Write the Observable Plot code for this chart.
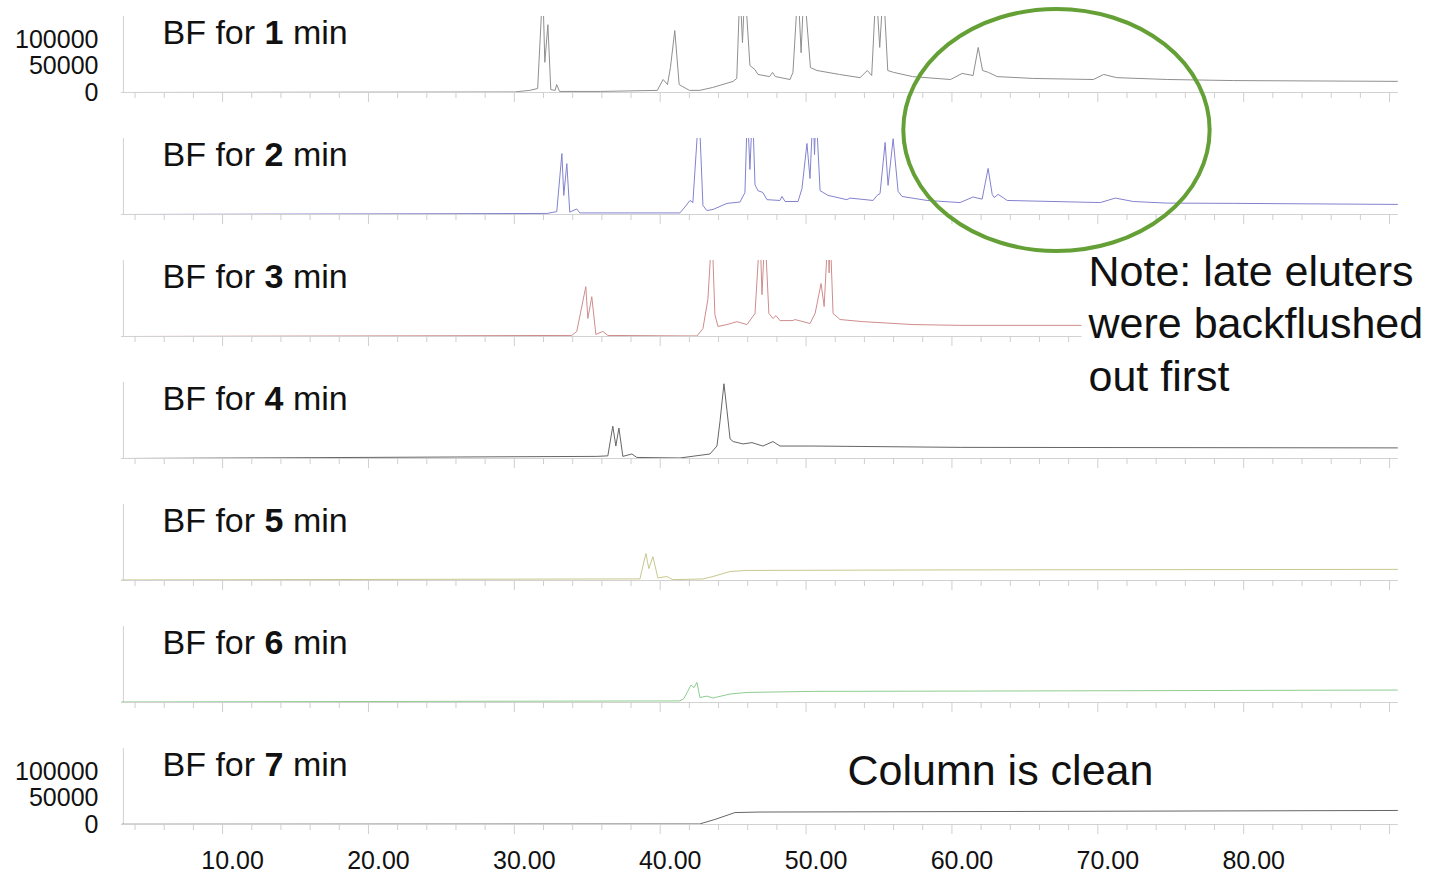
<!DOCTYPE html>
<html><head><meta charset="utf-8">
<script src="https://cdn.jsdelivr.net/npm/d3@7"></script>
<script src="https://cdn.jsdelivr.net/npm/@observablehq/plot@0.6"></script>
<style>
body{margin:0;background:#fff;}
#chart{position:relative;width:1429px;height:873px;}
</style></head><body><div id="chart"></div>
<script>
// ---- data (retention time in min, abundance in counts) ----
const panels = [1, 2, 3, 4, 5, 6, 7];
const panelColors = ["#8f8f8f", "#8282cf", "#cf8c8c", "#666666", "#c8c88e", "#8fcd8f", "#666666"];

const bf1 = [[3.1,0],[30.0,1000],[31.05,4000],[31.6,7500],[31.95,200000],[32.09,57000],[32.3,128000],[32.5,5500],[32.8,4000],[32.9,15000],[33.1,2000],[35.9,2000],[39.8,4000],[40.2,24500],[40.5,15000],[40.7,47000],[41.0,117000],[41.3,15000],[41.55,11000],[42.0,4000],[42.7,4000],[43.6,9500],[45.0,21000],[45.25,26500],[45.47,200000],[45.64,94000],[45.81,200000],[46.15,51000],[46.5,43000],[46.7,34000],[47.5,30000],[47.7,38000],[47.9,30000],[48.9,24500],[49.1,38000],[49.45,200000],[49.66,75000],[49.86,200000],[50.3,47000],[50.75,41500],[52.3,34000],[53.7,28000],[54.2,41500],[54.5,32000],[54.8,200000],[55.05,85000],[55.3,200000],[55.6,41500],[56.0,38000],[57.3,30000],[59.9,24500],[60.7,36000],[61.45,32000],[61.8,85000],[62.1,41500],[62.5,38000],[63.1,30000],[65.6,26500],[69.7,24500],[70.4,34000],[71.3,28000],[74.8,24500],[79.3,22500],[90.6,21000]];
const bf2 = [[3.1,0],[32.23,2000],[32.91,5500],[33.26,115000],[33.39,36000],[33.6,96000],[33.8,4500],[34.28,10500],[34.49,3000],[41.35,3000],[41.69,14000],[42.04,26500],[42.24,22500],[42.66,200000],[42.93,17000],[43.2,7500],[43.62,9500],[44.58,21000],[45.47,23500],[45.81,41500],[45.98,200000],[46.15,85000],[46.33,200000],[46.5,56000],[46.7,45000],[47.04,41500],[47.32,28000],[48.21,26500],[48.35,34000],[48.56,24500],[49.45,24500],[49.72,49000],[50.06,134000],[50.27,68000],[50.48,200000],[50.58,113000],[50.68,200000],[50.96,45000],[51.51,36000],[52.8,28000],[53.01,31000],[54.59,26500],[54.87,36000],[55.07,39500],[55.42,136000],[55.62,55000],[55.97,143000],[56.31,43500],[56.58,34000],[58.3,26500],[60.56,22500],[61.45,33000],[62.07,29000],[62.48,87000],[62.76,38000],[62.9,32000],[63.17,38000],[63.79,26500],[70.17,22500],[71.2,31000],[72.43,24500],[74.76,21500],[79.29,21000],[90.6,19000]];
const bf3 = [[3.1,0],[33.94,2000],[34.28,9500],[34.9,94000],[35.04,34000],[35.31,75000],[35.59,4000],[36.07,9500],[36.41,2000],[42.52,1000],[42.93,15000],[43.27,70000],[43.55,200000],[43.75,41500],[43.96,19000],[44.58,22500],[45.26,28000],[45.95,22500],[46.5,43500],[46.84,200000],[46.98,79000],[47.18,200000],[47.45,43500],[47.73,34000],[47.94,39500],[48.21,30000],[49.1,30000],[49.24,32000],[50.27,24500],[50.62,43500],[51.03,100000],[51.24,56500],[51.51,200000],[51.58,120000],[51.65,200000],[51.85,43500],[52.33,32000],[53.91,28000],[57.33,22500],[60.56,21000],[68.93,21000],[90.6,19000]];
const bf4 = [[3.1,0],[35.66,4000],[36.41,5000],[36.75,61000],[36.96,23500],[37.17,57500],[37.44,4000],[38.06,8500],[38.4,2000],[41.35,1000],[43.41,8500],[43.89,23500],[44.1,70000],[44.37,141000],[44.58,90000],[44.79,37000],[45.0,32000],[45.68,27500],[46.29,30000],[47.04,23500],[47.73,32000],[48.21,23500],[50.48,23500],[60.56,21000],[90.6,20000]];
const bf5 = [[3.1,1000],[37.78,3000],[38.61,3000],[39.02,51000],[39.22,22500],[39.5,45000],[39.84,5000],[40.46,7500],[40.87,1500],[42.93,3000],[43.62,7500],[44.79,17000],[45.95,19000],[60.56,20000],[90.6,21000]];
const bf6 = [[3.1,1000],[41.35,3000],[41.63,7500],[42.11,33000],[42.32,28000],[42.52,38000],[42.72,9500],[43.2,12000],[43.62,8500],[44.79,16000],[45.95,19000],[50.48,21000],[60.56,21500],[90.6,23500]];
const bf7 = [[3.1,500],[42.7,1000],[43.75,9500],[45.12,22500],[46.84,23500],[63.3,24500],[90.6,26500]];
const traces = [bf1, bf2, bf3, bf4, bf5, bf6, bf7];

const yTickValues = [0, 50000, 100000];
const yTickPanels = [1, 7];
const xMinorTicks = [4,6,8,12,14,16,18,22,24,26,28,32,34,36,38,42,44,46,48,52,54,56,58,62,64,66,68,72,74,76,78,82,84,86,88];
const xMajorTicks = [10,20,30,40,50,60,70,80,90];
const xLabelValues = [10,20,30,40,50,60,70,80];

// ---- tables built from the arrays ----
const rows = traces.flatMap((tr, i) => tr.map(([t, v]) => ({panel: panels[i], t, v})));
const yLabelRows = yTickPanels.flatMap(p => yTickValues.map(v => ({panel: p, value: v})));
const last = panels[panels.length - 1];

const chart = Plot.plot({
  width: 1429, height: 873,
  marginLeft: 121, marginRight: 31.2, marginTop: 14, marginBottom: 48,
  style: {fontFamily: "'Liberation Sans', Arial, sans-serif", background: "white", color: "#111"},
  x: {domain: [3.07, 90.6], axis: null},
  y: {domain: [0, 143400], axis: null},
  fy: {domain: panels, axis: null, paddingInner: 0.38, paddingOuter: 0},
  color: {domain: panels, range: panelColors},
  marks: [
    Plot.ruleY([0], {stroke: "#d2d2d2"}),
    Plot.ruleX([3.2], {stroke: "#d2d2d2"}),
    Plot.ruleX(xMinorTicks, {x: d => d, y1: () => 0, y2: () => 0, insetBottom: -6, stroke: "#cfcfcf"}),
    Plot.ruleX(xMajorTicks, {x: d => d, y1: () => 0, y2: () => 0, insetBottom: -10, stroke: "#cfcfcf"}),
    Plot.line(rows, {x: "t", y: "v", fy: "panel", z: "panel", stroke: "panel", strokeWidth: 1, clip: true}),
    Plot.text(yLabelRows, {fy: "panel", y: "value", text: d => String(d.value), frameAnchor: "left", textAnchor: "end", dx: -23, fontSize: 25, fill: "#111"}),
    Plot.text(panels, {fy: d => d, text: d => `BF for ${d} min`, frameAnchor: "top-left", textAnchor: "start", lineAnchor: "middle", dx: 41, dy: 17, fontSize: 34, fill: "#111"}),
    Plot.text(xLabelValues, {x: d => d, fy: () => last, text: d => d.toFixed(2), frameAnchor: "bottom", dy: 44, dx: 10, fontSize: 25, fill: "#111"}),
    Plot.text(["Column is clean"], {fy: () => last, frameAnchor: "top-left", textAnchor: "start", lineAnchor: "middle", dx: 726, dy: 23, fontSize: 43, fill: "#111"}),
    Plot.text(["Note: late eluters\nwere backflushed\nout first"], {fy: () => 3, frameAnchor: "top-left", textAnchor: "start", lineAnchor: "middle", lineHeight: 1.22, dx: 967, dy: 61, fontSize: 43, fill: "#111"})
  ]
});

document.getElementById("chart").appendChild(chart);

const svg = d3.select(chart);
// bold panel numbers
svg.selectAll("text").each(function () {
  const m = /^BF for (\d) min$/.exec(this.textContent);
  if (m) {
    const s = d3.select(this);
    s.text(null);
    s.append("tspan").text("BF for ");
    s.append("tspan").attr("font-weight", "bold").text(m[1]);
    s.append("tspan").text(" min");
  }
});

// white box behind the note
const svgBox = chart.getBoundingClientRect();
svg.selectAll("text").each(function () {
  if (this.textContent.startsWith("Note:")) {
    const b = this.getBoundingClientRect();
    let g = this;
    while (g.parentNode !== chart) g = g.parentNode;
    const r = document.createElementNS("http://www.w3.org/2000/svg", "rect");
    r.setAttribute("x", b.left - svgBox.left - 6);
    r.setAttribute("y", b.top - svgBox.top + 4);
    r.setAttribute("width", 1429);
    r.setAttribute("height", b.height - 4);
    r.setAttribute("fill", "white");
    chart.insertBefore(r, g);
  }
});

// green highlight ellipse around the late eluters
const xs = chart.scale("x");
const cx = xs.apply(67.2), rx = xs.apply(77.7) - cx;
svg.append("ellipse")
  .attr("cx", cx).attr("cy", 130).attr("rx", rx).attr("ry", 121)
  .attr("fill", "none").attr("stroke", "#64a036").attr("stroke-width", 4);
</script></body></html>
